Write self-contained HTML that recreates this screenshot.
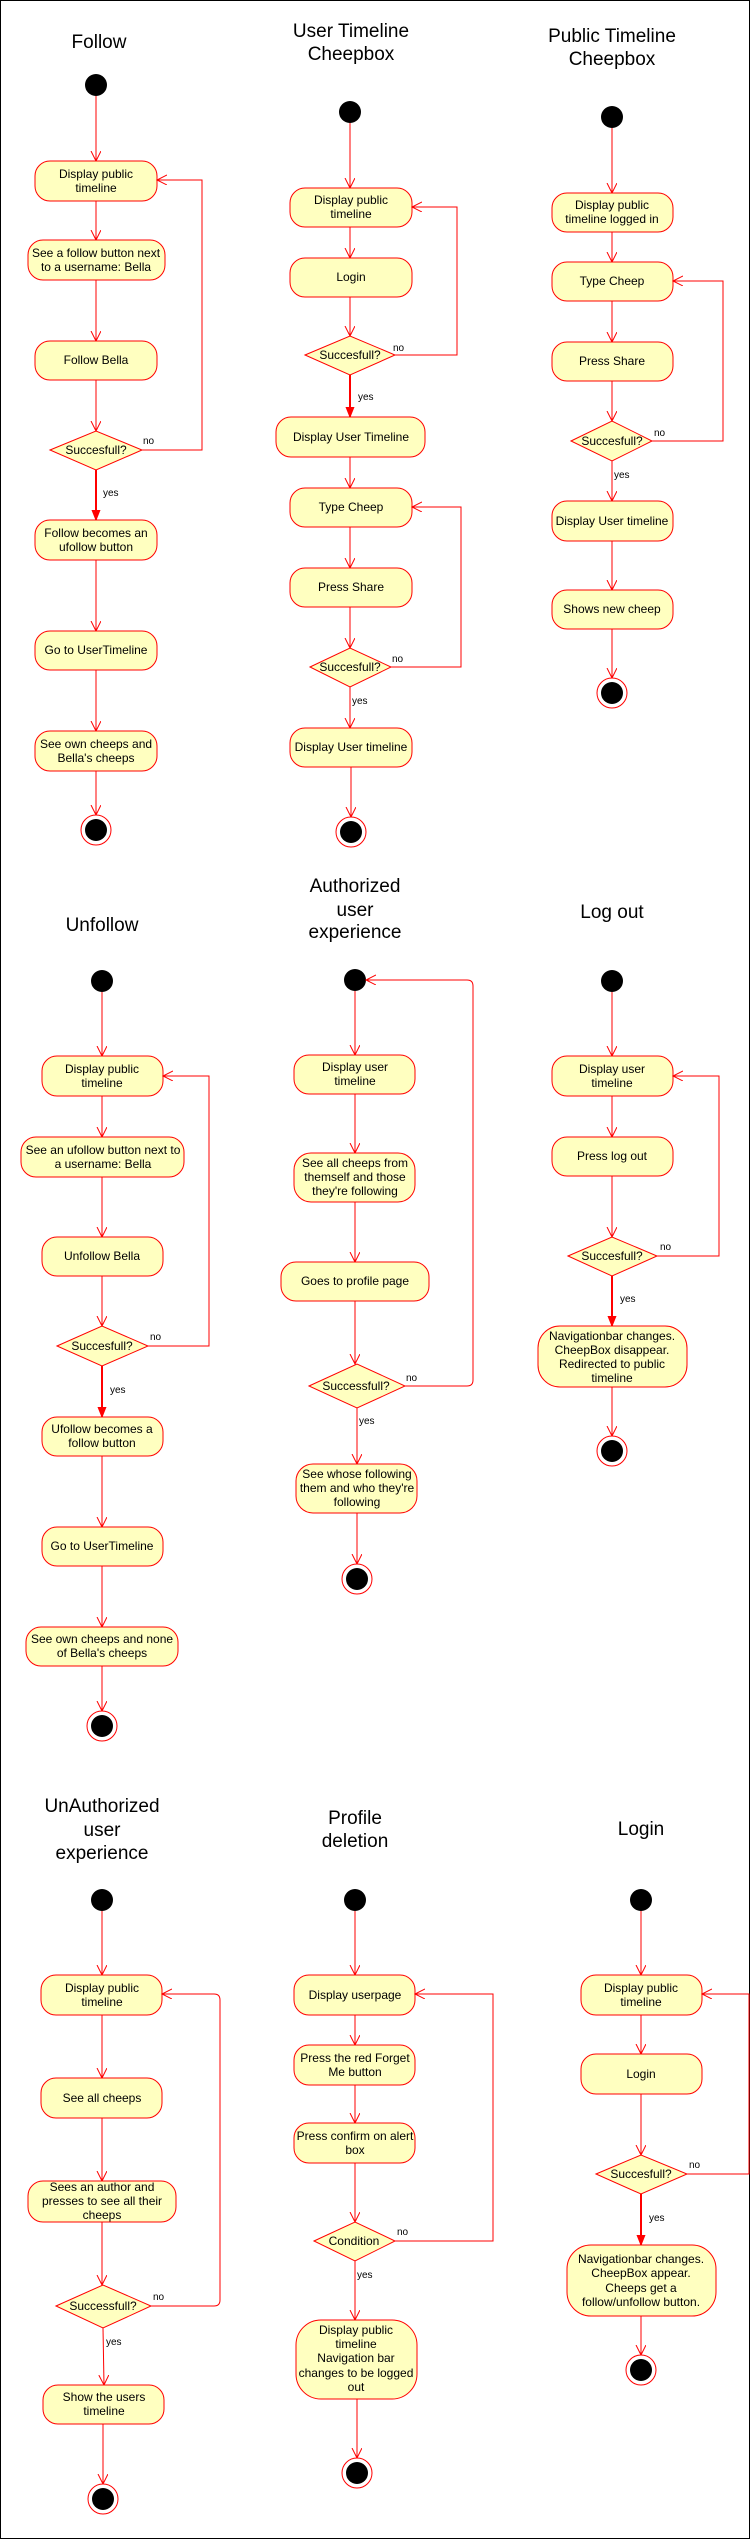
<!DOCTYPE html>
<html><head><meta charset="utf-8"><style>
html,body{margin:0;padding:0;background:#fff}
svg{display:block}
text{font-family:"Liberation Sans",Arial,sans-serif;fill:#000}
.t{font-size:19px;text-anchor:middle}
.n{font-size:12px;text-anchor:middle}
.s{font-size:10px}
rect.b{fill:#FFFFC0;stroke:#FF0000;stroke-width:1}
polygon.d{fill:#FFFFC0;stroke:#FF0000;stroke-width:1}
.l{stroke:#FF0000;stroke-width:1;fill:none;marker-end:url(#a)}
.k{stroke:#FF0000;stroke-width:2;fill:none;marker-end:url(#f)}
.st{fill:#000}
.eo{fill:#fff;stroke:#FF0000;stroke-width:1}
</style></head><body>
<svg width="750" height="2539" viewBox="0 0 750 2539" xmlns="http://www.w3.org/2000/svg">
<defs>
<marker id="a" markerWidth="12" markerHeight="12" refX="10" refY="5" orient="auto" markerUnits="userSpaceOnUse"><path d="M0,0 L10,5 L0,10" fill="none" stroke="#FF0000" stroke-width="1"/></marker>
<marker id="f" markerWidth="12" markerHeight="12" refX="10" refY="5" orient="auto" markerUnits="userSpaceOnUse"><path d="M0,1 L10,5 L0,9 Z" fill="#FF0000" stroke="#FF0000"/></marker>
</defs>
<rect x="0.5" y="0.5" width="749" height="2538" fill="none" stroke="#000"/>

<!-- Titles -->
<text class="t" x="99" y="48">Follow</text>
<text class="t" x="351" y="37">User Timeline</text><text class="t" x="351" y="60">Cheepbox</text>
<text class="t" x="612" y="42">Public Timeline</text><text class="t" x="612" y="65">Cheepbox</text>
<text class="t" x="102" y="931">Unfollow</text>
<text class="t" x="355" y="892">Authorized</text><text class="t" x="355" y="916">user</text><text class="t" x="355" y="938">experience</text>
<text class="t" x="612" y="918">Log out</text>
<text class="t" x="102" y="1812">UnAuthorized</text><text class="t" x="102" y="1836">user</text><text class="t" x="102" y="1859">experience</text>
<text class="t" x="355" y="1824">Profile</text><text class="t" x="355" y="1847">deletion</text>
<text class="t" x="641" y="1835">Login</text>

<!-- ===== Follow ===== -->
<circle class="st" cx="96" cy="85" r="11"/>
<line class="l" x1="96" y1="96" x2="96" y2="161"/>
<rect class="b" x="35" y="161" width="122" height="40" rx="15"/>
<text class="n" x="96" y="178">Display public</text><text class="n" x="96" y="192">timeline</text>
<line class="l" x1="96" y1="201" x2="96" y2="240"/>
<rect class="b" x="28" y="240" width="137" height="40" rx="15"/>
<text class="n" x="96" y="257">See a follow button next</text><text class="n" x="96" y="271">to a username: Bella</text>
<line class="l" x1="96" y1="280" x2="96" y2="341"/>
<rect class="b" x="35" y="341" width="122" height="39" rx="15"/>
<text class="n" x="96" y="364">Follow Bella</text>
<line class="l" x1="96" y1="380" x2="96" y2="431"/>
<polygon class="d" points="50,450 96,431 142,450 96,470"/>
<text class="n" x="96" y="454">Succesfull?</text>
<text class="s" x="143" y="444">no</text>
<polyline class="l" points="142,450 202,450 202,180 157,180"/>
<line class="k" x1="96" y1="470" x2="96" y2="520"/>
<text class="s" x="103" y="496">yes</text>
<rect class="b" x="35" y="520" width="122" height="40" rx="15"/>
<text class="n" x="96" y="537">Follow becomes an</text><text class="n" x="96" y="551">ufollow button</text>
<line class="l" x1="96" y1="560" x2="96" y2="631"/>
<rect class="b" x="35" y="631" width="122" height="39" rx="15"/>
<text class="n" x="96" y="654">Go to UserTimeline</text>
<line class="l" x1="96" y1="670" x2="96" y2="731"/>
<rect class="b" x="35" y="731" width="122" height="40" rx="15"/>
<text class="n" x="96" y="748">See own cheeps and</text><text class="n" x="96" y="762">Bella's cheeps</text>
<line class="l" x1="96" y1="771" x2="96" y2="815"/>
<circle class="eo" cx="96" cy="830" r="15"/><circle class="st" cx="96" cy="830" r="11"/>

<!-- ===== User Timeline Cheepbox ===== -->
<circle class="st" cx="350" cy="112" r="11"/>
<line class="l" x1="350" y1="123" x2="350" y2="188"/>
<rect class="b" x="290" y="188" width="122" height="39" rx="15"/>
<text class="n" x="351" y="204">Display public</text><text class="n" x="351" y="218">timeline</text>
<line class="l" x1="350" y1="227" x2="350" y2="258"/>
<rect class="b" x="290" y="258" width="122" height="39" rx="15"/>
<text class="n" x="351" y="281">Login</text>
<line class="l" x1="350" y1="297" x2="350" y2="336"/>
<polygon class="d" points="305,355 350,336 395,355 350,375"/>
<text class="n" x="350" y="359">Succesfull?</text>
<text class="s" x="393" y="351">no</text>
<polyline class="l" points="395,355 457,355 457,207 412,207"/>
<line class="k" x1="350" y1="375" x2="350" y2="417"/>
<text class="s" x="358" y="400">yes</text>
<rect class="b" x="276" y="417" width="149" height="40" rx="15"/>
<text class="n" x="351" y="441">Display User Timeline</text>
<line class="l" x1="350" y1="457" x2="350" y2="488"/>
<rect class="b" x="290" y="488" width="122" height="39" rx="15"/>
<text class="n" x="351" y="511">Type Cheep</text>
<line class="l" x1="350" y1="527" x2="350" y2="568"/>
<rect class="b" x="290" y="568" width="122" height="39" rx="15"/>
<text class="n" x="351" y="591">Press Share</text>
<line class="l" x1="350" y1="607" x2="350" y2="648"/>
<polygon class="d" points="310,667 350,648 391,667 350,687"/>
<text class="n" x="350" y="671">Succesfull?</text>
<text class="s" x="392" y="662">no</text>
<polyline class="l" points="391,667 461,667 461,507 412,507"/>
<line class="l" x1="350" y1="687" x2="350" y2="728"/>
<text class="s" x="352" y="704">yes</text>
<rect class="b" x="290" y="728" width="122" height="39" rx="15"/>
<text class="n" x="351" y="751">Display User timeline</text>
<line class="l" x1="351" y1="767" x2="351" y2="817"/>
<circle class="eo" cx="351" cy="832" r="15"/><circle class="st" cx="351" cy="832" r="11"/>

<!-- ===== Public Timeline Cheepbox ===== -->
<circle class="st" cx="612" cy="117" r="11"/>
<line class="l" x1="612" y1="128" x2="612" y2="193"/>
<rect class="b" x="552" y="193" width="121" height="39" rx="15"/>
<text class="n" x="612" y="209">Display public</text><text class="n" x="612" y="223">timeline logged in</text>
<line class="l" x1="612" y1="232" x2="612" y2="262"/>
<rect class="b" x="552" y="262" width="121" height="39" rx="15"/>
<text class="n" x="612" y="285">Type Cheep</text>
<line class="l" x1="612" y1="301" x2="612" y2="342"/>
<rect class="b" x="552" y="342" width="121" height="39" rx="15"/>
<text class="n" x="612" y="365">Press Share</text>
<line class="l" x1="612" y1="381" x2="612" y2="421"/>
<polygon class="d" points="571,441 612,421 652,441 612,461"/>
<text class="n" x="612" y="445">Succesfull?</text>
<text class="s" x="654" y="436">no</text>
<polyline class="l" points="652,441 723,441 723,281 673,281"/>
<line class="l" x1="612" y1="461" x2="612" y2="501"/>
<text class="s" x="614" y="478">yes</text>
<rect class="b" x="552" y="501" width="121" height="40" rx="15"/>
<text class="n" x="612" y="525">Display User timeline</text>
<line class="l" x1="612" y1="541" x2="612" y2="590"/>
<rect class="b" x="552" y="590" width="121" height="39" rx="15"/>
<text class="n" x="612" y="613">Shows new cheep</text>
<line class="l" x1="612" y1="629" x2="612" y2="678"/>
<circle class="eo" cx="612" cy="693" r="15"/><circle class="st" cx="612" cy="693" r="11"/>

<!-- ===== Unfollow ===== -->
<circle class="st" cx="102" cy="981" r="11"/>
<line class="l" x1="102" y1="992" x2="102" y2="1056"/>
<rect class="b" x="42" y="1056" width="121" height="40" rx="15"/>
<text class="n" x="102" y="1073">Display public</text><text class="n" x="102" y="1087">timeline</text>
<line class="l" x1="102" y1="1096" x2="102" y2="1137"/>
<rect class="b" x="21" y="1137" width="163" height="40" rx="15"/>
<text class="n" x="103" y="1154">See an ufollow button next to</text><text class="n" x="103" y="1168">a username: Bella</text>
<line class="l" x1="102" y1="1177" x2="102" y2="1237"/>
<rect class="b" x="42" y="1237" width="121" height="39" rx="15"/>
<text class="n" x="102" y="1260">Unfollow Bella</text>
<line class="l" x1="102" y1="1276" x2="102" y2="1326"/>
<polygon class="d" points="57,1346 102,1326 148,1346 102,1366"/>
<text class="n" x="102" y="1350">Succesfull?</text>
<text class="s" x="150" y="1340">no</text>
<polyline class="l" points="148,1346 209,1346 209,1076 163,1076"/>
<line class="k" x1="102" y1="1366" x2="102" y2="1417"/>
<text class="s" x="110" y="1393">yes</text>
<rect class="b" x="42" y="1417" width="121" height="39" rx="15"/>
<text class="n" x="102" y="1433">Ufollow becomes a</text><text class="n" x="102" y="1447">follow button</text>
<line class="l" x1="102" y1="1456" x2="102" y2="1527"/>
<rect class="b" x="42" y="1527" width="121" height="39" rx="15"/>
<text class="n" x="102" y="1550">Go to UserTimeline</text>
<line class="l" x1="102" y1="1566" x2="102" y2="1627"/>
<rect class="b" x="26" y="1627" width="152" height="39" rx="15"/>
<text class="n" x="102" y="1643">See own cheeps and none</text><text class="n" x="102" y="1657">of Bella's cheeps</text>
<line class="l" x1="102" y1="1666" x2="102" y2="1711"/>
<circle class="eo" cx="102" cy="1726" r="15"/><circle class="st" cx="102" cy="1726" r="11"/>

<!-- ===== Authorized user experience ===== -->
<circle class="st" cx="355" cy="980" r="11"/>
<line class="l" x1="355" y1="991" x2="355" y2="1055"/>
<rect class="b" x="294" y="1055" width="121" height="39" rx="15"/>
<text class="n" x="355" y="1071">Display user</text><text class="n" x="355" y="1085">timeline</text>
<line class="l" x1="355" y1="1094" x2="355" y2="1153"/>
<rect class="b" x="294" y="1153" width="121" height="49" rx="17"/>
<text class="n" x="355" y="1167">See all cheeps from</text><text class="n" x="355" y="1181">themself and those</text><text class="n" x="355" y="1195">they're following</text>
<line class="l" x1="355" y1="1202" x2="355" y2="1262"/>
<rect class="b" x="281" y="1262" width="148" height="39" rx="15"/>
<text class="n" x="355" y="1285">Goes to profile page</text>
<line class="l" x1="355" y1="1301" x2="355" y2="1364"/>
<polygon class="d" points="309,1386 357,1364 405,1386 357,1408"/>
<text class="n" x="356" y="1390">Successfull?</text>
<text class="s" x="406" y="1381">no</text>
<path class="l" d="M405,1386 L467,1386 Q473,1386 473,1380 L473,986 Q473,980 467,980 L366,980"/>
<line class="l" x1="357" y1="1408" x2="357" y2="1464"/>
<text class="s" x="359" y="1424">yes</text>
<rect class="b" x="296" y="1464" width="121" height="49" rx="17"/>
<text class="n" x="357" y="1478">See whose following</text><text class="n" x="357" y="1492">them and who they're</text><text class="n" x="357" y="1506">following</text>
<line class="l" x1="357" y1="1513" x2="357" y2="1564"/>
<circle class="eo" cx="357" cy="1579" r="15"/><circle class="st" cx="357" cy="1579" r="11"/>

<!-- ===== Log out ===== -->
<circle class="st" cx="612" cy="981" r="11"/>
<line class="l" x1="612" y1="992" x2="612" y2="1056"/>
<rect class="b" x="552" y="1056" width="121" height="40" rx="15"/>
<text class="n" x="612" y="1073">Display user</text><text class="n" x="612" y="1087">timeline</text>
<line class="l" x1="612" y1="1096" x2="612" y2="1137"/>
<rect class="b" x="552" y="1137" width="121" height="39" rx="15"/>
<text class="n" x="612" y="1160">Press log out</text>
<line class="l" x1="612" y1="1176" x2="612" y2="1237"/>
<polygon class="d" points="568,1256 612,1237 657,1256 612,1276"/>
<text class="n" x="612" y="1260">Succesfull?</text>
<text class="s" x="660" y="1250">no</text>
<polyline class="l" points="657,1256 719,1256 719,1076 673,1076"/>
<line class="k" x1="612" y1="1276" x2="612" y2="1326"/>
<text class="s" x="620" y="1302">yes</text>
<rect class="b" x="538" y="1326" width="149" height="61" rx="22"/>
<text class="n" x="612" y="1340">Navigationbar changes.</text><text class="n" x="612" y="1354">CheepBox disappear.</text><text class="n" x="612" y="1368">Redirected to public</text><text class="n" x="612" y="1382">timeline</text>
<line class="l" x1="612" y1="1387" x2="612" y2="1436"/>
<circle class="eo" cx="612" cy="1451" r="15"/><circle class="st" cx="612" cy="1451" r="11"/>

<!-- ===== UnAuthorized user experience ===== -->
<circle class="st" cx="102" cy="1900" r="11"/>
<line class="l" x1="102" y1="1911" x2="102" y2="1975"/>
<rect class="b" x="41" y="1975" width="121" height="40" rx="15"/>
<text class="n" x="102" y="1992">Display public</text><text class="n" x="102" y="2006">timeline</text>
<line class="l" x1="102" y1="2015" x2="102" y2="2078"/>
<rect class="b" x="41" y="2078" width="121" height="40" rx="15"/>
<text class="n" x="102" y="2102">See all cheeps</text>
<line class="l" x1="102" y1="2118" x2="102" y2="2181"/>
<rect class="b" x="28" y="2181" width="148" height="41" rx="15"/>
<text class="n" x="102" y="2191">Sees an author and</text><text class="n" x="102" y="2205">presses to see all their</text><text class="n" x="102" y="2219">cheeps</text>
<line class="l" x1="102" y1="2222" x2="102" y2="2285"/>
<polygon class="d" points="56,2306 103,2285 151,2306 103,2328"/>
<text class="n" x="103" y="2310">Successfull?</text>
<text class="s" x="153" y="2300">no</text>
<path class="l" d="M151,2306 L214,2306 Q220,2306 220,2300 L220,2000 Q220,1994 214,1994 L162,1994"/>
<line class="l" x1="103" y1="2328" x2="104" y2="2385"/>
<text class="s" x="106" y="2345">yes</text>
<rect class="b" x="43" y="2385" width="121" height="39" rx="15"/>
<text class="n" x="104" y="2401">Show the users</text><text class="n" x="104" y="2415">timeline</text>
<line class="l" x1="103" y1="2424" x2="103" y2="2484"/>
<circle class="eo" cx="103" cy="2499" r="15"/><circle class="st" cx="103" cy="2499" r="11"/>

<!-- ===== Profile deletion ===== -->
<circle class="st" cx="355" cy="1900" r="11"/>
<line class="l" x1="355" y1="1911" x2="355" y2="1975"/>
<rect class="b" x="294" y="1975" width="121" height="40" rx="15"/>
<text class="n" x="355" y="1999">Display userpage</text>
<line class="l" x1="355" y1="2015" x2="355" y2="2045"/>
<rect class="b" x="294" y="2045" width="121" height="40" rx="15"/>
<text class="n" x="355" y="2062">Press the red Forget</text><text class="n" x="355" y="2076">Me button</text>
<line class="l" x1="355" y1="2085" x2="355" y2="2123"/>
<rect class="b" x="294" y="2123" width="121" height="40" rx="15"/>
<text class="n" x="355" y="2140">Press confirm on alert</text><text class="n" x="355" y="2154">box</text>
<line class="l" x1="355" y1="2163" x2="355" y2="2222"/>
<polygon class="d" points="314,2241 355,2222 395,2241 355,2261"/>
<text class="n" x="354" y="2245">Condition</text>
<text class="s" x="397" y="2235">no</text>
<polyline class="l" points="395,2241 493,2241 493,1994 415,1994"/>
<line class="l" x1="355" y1="2261" x2="355" y2="2320"/>
<text class="s" x="357" y="2278">yes</text>
<rect class="b" x="296" y="2320" width="121" height="79" rx="25"/>
<text class="n" x="356" y="2334">Display public</text><text class="n" x="356" y="2348">timeline</text><text class="n" x="356" y="2362">Navigation bar</text><text class="n" x="356" y="2377">changes to be logged</text><text class="n" x="356" y="2391">out</text>
<line class="l" x1="357" y1="2399" x2="357" y2="2458"/>
<circle class="eo" cx="357" cy="2473" r="15"/><circle class="st" cx="357" cy="2473" r="11"/>

<!-- ===== Login ===== -->
<circle class="st" cx="641" cy="1900" r="11"/>
<line class="l" x1="641" y1="1911" x2="641" y2="1975"/>
<rect class="b" x="581" y="1975" width="121" height="40" rx="15"/>
<text class="n" x="641" y="1992">Display public</text><text class="n" x="641" y="2006">timeline</text>
<line class="l" x1="641" y1="2015" x2="641" y2="2054"/>
<rect class="b" x="581" y="2054" width="121" height="40" rx="15"/>
<text class="n" x="641" y="2078">Login</text>
<line class="l" x1="641" y1="2094" x2="641" y2="2155"/>
<polygon class="d" points="596,2174 641,2155 687,2174 641,2194"/>
<text class="n" x="641" y="2178">Succesfull?</text>
<text class="s" x="689" y="2168">no</text>
<polyline class="l" points="687,2174 749,2174 749,1994 702,1994"/>
<line class="k" x1="641" y1="2194" x2="641" y2="2245"/>
<text class="s" x="649" y="2221">yes</text>
<rect class="b" x="567" y="2245" width="149" height="71" rx="24"/>
<text class="n" x="641" y="2263">Navigationbar changes.</text><text class="n" x="641" y="2277">CheepBox appear.</text><text class="n" x="641" y="2292">Cheeps get a</text><text class="n" x="641" y="2306">follow/unfollow button.</text>
<line class="l" x1="641" y1="2316" x2="641" y2="2355"/>
<circle class="eo" cx="641" cy="2370" r="15"/><circle class="st" cx="641" cy="2370" r="11"/>
</svg>
</body></html>
